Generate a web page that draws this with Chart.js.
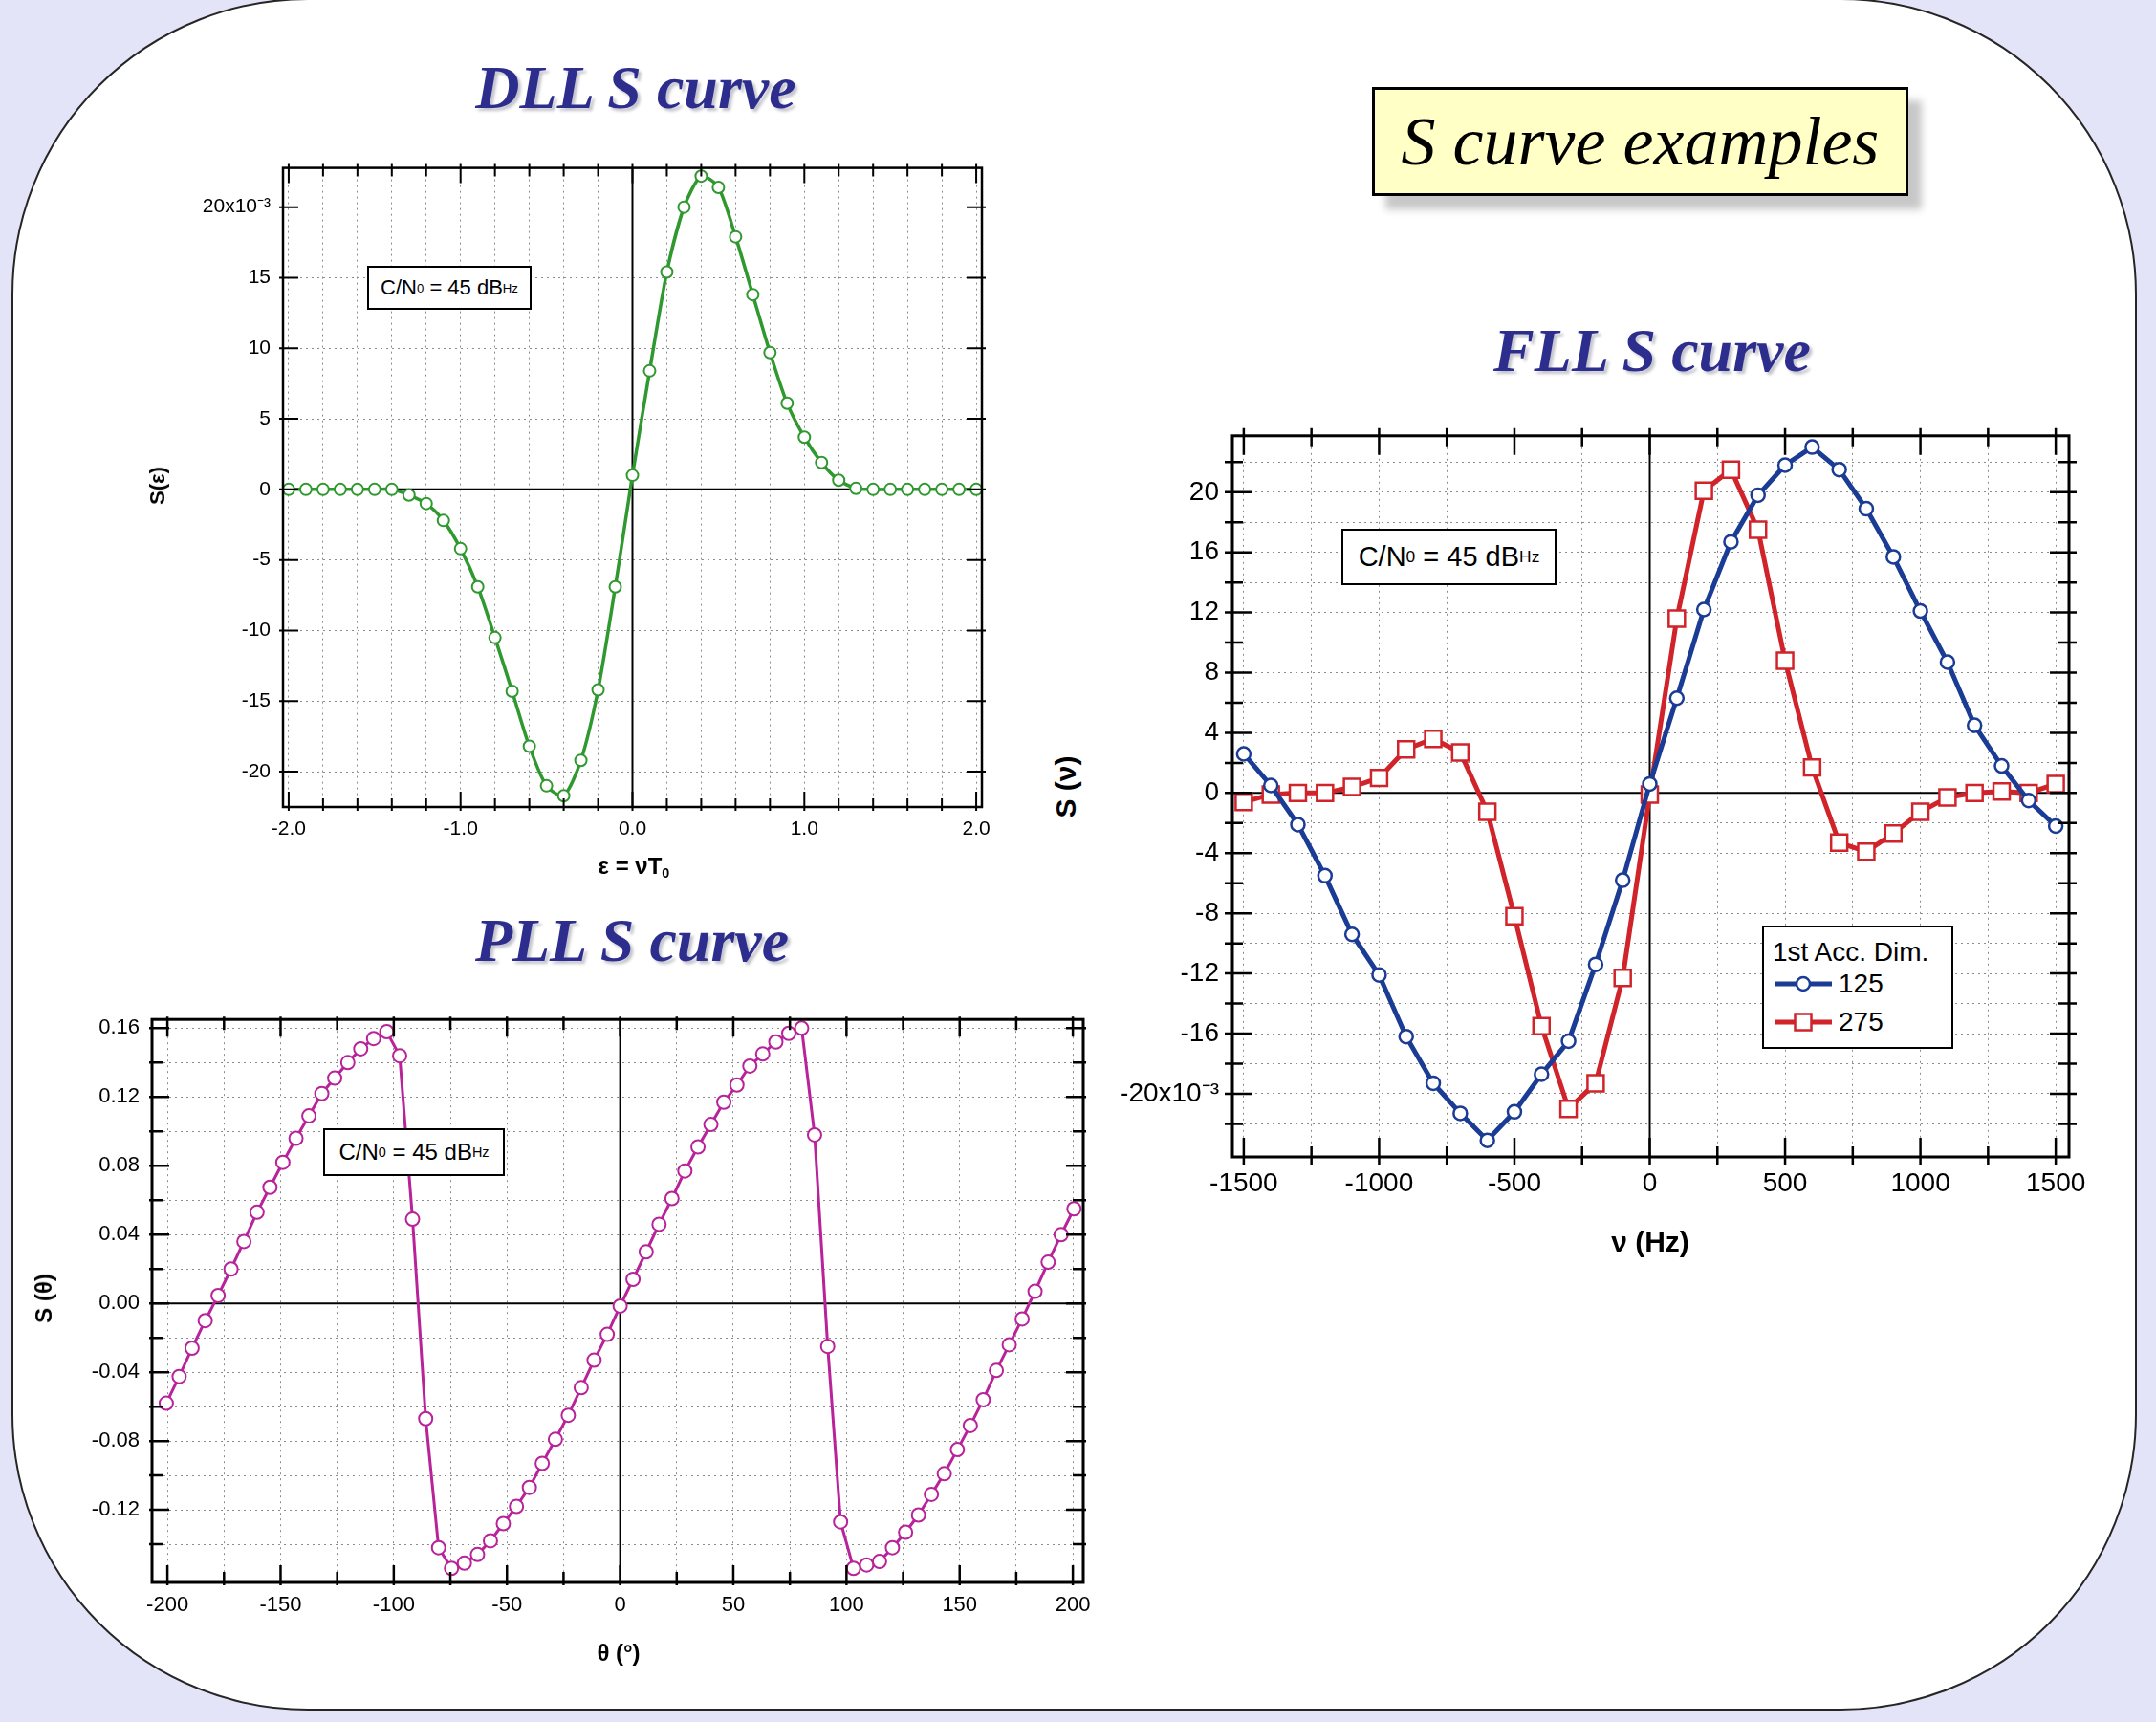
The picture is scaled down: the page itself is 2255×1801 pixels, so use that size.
<!DOCTYPE html>
<html>
<head>
<meta charset="utf-8">
<script src="https://cdn.jsdelivr.net/npm/chart.js@4.4.0/dist/chart.umd.min.js"></script>
<style>
  html, body { margin: 0; padding: 0; }
  body { width: 2255px; height: 1801px; position: relative; overflow: hidden; background: #e4e4f8; font-family: 'Liberation Sans', Arial, sans-serif; }
  #panel { position: absolute; left: 12px; top: -2px; width: 2219px; height: 1787px; background: #fff; border: 2px solid #262626; border-radius: 310px; }
  .title { position: absolute; transform: translate(-50%, -50%); font: italic bold 64px 'Liberation Serif', serif; color: #2d2d8e; white-space: nowrap; line-height: 1; text-shadow: 3px 3px 3px rgba(60, 60, 90, .3); }
  #banner { position: absolute; left: 1435px; top: 91px; width: 555px; height: 108px; border: 3px solid #000; background: #ffffc6; box-shadow: 14px 14px 8px rgba(0, 0, 0, .22); font: italic 72px 'Liberation Serif', serif; display: flex; align-items: center; justify-content: center; white-space: nowrap; }
  canvas { position: absolute; }
  .note { position: absolute; box-sizing: border-box; border: 2px solid #000; background: #fff; display: flex; align-items: center; justify-content: center; white-space: nowrap; font-family: 'Liberation Sans Narrow', 'Liberation Sans', Arial, sans-serif; }
  .note sub { font-size: 60%; vertical-align: -0.35em; }
  .ax { position: absolute; transform: translate(-50%, -50%); font-weight: bold; white-space: nowrap; line-height: 1; }
  .ax.rot { transform: translate(-50%, -50%) rotate(-90deg); }
  .ax sub { font-size: 60%; vertical-align: -0.3em; }
  #legend { position: absolute; left: 1843px; top: 968px; width: 200px; height: 129px; box-sizing: border-box; border: 2px solid #000; background: #fff; font-family: 'Liberation Sans Narrow', 'Liberation Sans', Arial, sans-serif; font-size: 28px; }
  #legend div { position: absolute; white-space: nowrap; line-height: 1; transform: translateY(-50%); }
  #legend svg { position: absolute; }
</style>
</head>
<body>
<div id="panel"></div>

<div class="title" style="left:665px;top:92px">DLL S curve</div>
<div class="title" style="left:661px;top:984px">PLL S curve</div>
<div class="title" style="left:1728px;top:367px">FLL S curve</div>
<div id="banner">S curve examples</div>

<canvas id="dllChart" width="960" height="790" style="left:100px;top:150px"></canvas>
<canvas id="pllChart" width="1140" height="700" style="left:20px;top:1040px"></canvas>
<canvas id="fllChart" width="1080" height="880" style="left:1140px;top:425px"></canvas>

<div class="note" style="left:384px;top:278px;width:172px;height:46px;font-size:22px">C/N<sub>0</sub>&nbsp;= 45 dB<sub>Hz</sub></div>
<div class="note" style="left:338px;top:1180px;width:190px;height:50px;font-size:24px">C/N<sub>0</sub>&nbsp;= 45 dB<sub>Hz</sub></div>
<div class="note" style="left:1403px;top:553px;width:225px;height:59px;font-size:29px">C/N<sub>0</sub>&nbsp;= 45 dB<sub>Hz</sub></div>

<div class="ax rot" style="left:165px;top:508px;font-size:22px">S(ε)</div>
<div class="ax" style="left:663px;top:907px;font-size:24px">ε = νT<sub>0</sub></div>
<div class="ax rot" style="left:46px;top:1358px;font-size:24px">S (θ)</div>
<div class="ax" style="left:647px;top:1729px;font-size:24px">θ (°)</div>
<div class="ax rot" style="left:1115px;top:823px;font-size:30px">S (ν)</div>
<div class="ax" style="left:1726px;top:1299px;font-size:30px">ν (Hz)</div>

<div id="legend">
  <div style="left:9px;top:26px">1st Acc. Dim.</div>
  <svg width="64" height="24" style="left:9px;top:47px">
    <line x1="2" y1="12" x2="62" y2="12" stroke="#1b3c95" stroke-width="5"/>
    <circle cx="32" cy="12" r="7" fill="#fff" stroke="#1b3c95" stroke-width="2.5"/>
  </svg>
  <div style="left:78px;top:59px">125</div>
  <svg width="64" height="26" style="left:9px;top:86px">
    <line x1="2" y1="13" x2="62" y2="13" stroke="#d0232a" stroke-width="5"/>
    <rect x="23.5" y="4.5" width="17" height="17" fill="#fff" stroke="#d0232a" stroke-width="2.5"/>
  </svg>
  <div style="left:78px;top:99px">275</div>
</div>

<script>
// DLL S curve (values in 10^-3)
const dllEps = [-2.0, -1.9, -1.8, -1.7, -1.6, -1.5, -1.4, -1.3, -1.2, -1.1, -1.0, -0.9, -0.8, -0.7,
  -0.6, -0.5, -0.4, -0.3, -0.2, -0.1, 0.0, 0.1, 0.2, 0.3, 0.4, 0.5, 0.6, 0.7, 0.8, 0.9, 1.0,
  1.1, 1.2, 1.3, 1.4, 1.5, 1.6, 1.7, 1.8, 1.9, 2.0];
const dllS = [0, 0, 0, 0, 0, 0, 0, -0.4, -1.0, -2.2, -4.2, -6.9, -10.5, -14.3,
  -18.2, -21.0, -21.7, -19.2, -14.2, -6.9, 1.0, 8.4, 15.4, 20.0, 22.2, 21.4, 17.9, 13.8, 9.7, 6.1, 3.7,
  1.9, 0.65, 0.07, 0, 0, 0, 0, 0, 0, 0];
const dllXLabels = [-2, -1, 0, 1, 2];
const dllYLabels = [-20, -15, -10, -5, 0, 5, 10, 15, 20];

// PLL S curve
const pllTheta = [-200.5, -194.8, -189.1, -183.3, -177.6, -171.9, -166.2, -160.4, -154.7, -149.0,
  -143.2, -137.5, -131.8, -126.1, -120.3, -114.6, -108.9, -103.1, -97.4, -91.7,
  -85.9, -80.2, -74.5, -68.8, -63.0, -57.3, -51.6, -45.8, -40.1, -34.4,
  -28.6, -22.9, -17.2, -11.5, -5.7, 0, 5.7, 11.5, 17.2, 22.9,
  28.6, 34.4, 40.1, 45.8, 51.6, 57.3, 63.0, 68.8, 74.5, 80.2,
  85.9, 91.7, 97.4, 103.1, 108.9, 114.6, 120.3, 126.1, 131.8, 137.5,
  143.2, 149.0, 154.7, 160.4, 166.2, 171.9, 177.6, 183.3, 189.1, 194.8, 200.5];
const pllS = [-0.058, -0.0425, -0.026, -0.010, 0.0046, 0.020, 0.036, 0.053, 0.0675, 0.082,
  0.096, 0.109, 0.122, 0.131, 0.140, 0.148, 0.154, 0.158, 0.144, 0.049,
  -0.067, -0.142, -0.154, -0.151, -0.146, -0.138, -0.128, -0.118, -0.107, -0.093,
  -0.079, -0.065, -0.049, -0.033, -0.018, -0.0015, 0.014, 0.030, 0.046, 0.061,
  0.077, 0.091, 0.104, 0.117, 0.127, 0.138, 0.145, 0.152, 0.157, 0.160,
  0.098, -0.025, -0.127, -0.154, -0.152, -0.150, -0.142, -0.133, -0.123, -0.111,
  -0.099, -0.085, -0.071, -0.056, -0.039, -0.024, -0.009, 0.007, 0.024, 0.040, 0.055];
const pllXLabels = [-200, -150, -100, -50, 0, 50, 100, 150, 200];
const pllYLabels = [-0.12, -0.08, -0.04, 0, 0.04, 0.08, 0.12, 0.16];

// FLL S curve (values in 10^-3)
const fllFreq = [-1500, -1400, -1300, -1200, -1100, -1000, -900, -800, -700, -600, -500, -400, -300, -200, -100,
  0, 100, 200, 300, 400, 500, 600, 700, 800, 900, 1000, 1100, 1200, 1300, 1400, 1500];
const fll125 = [2.6, 0.5, -2.1, -5.5, -9.4, -12.1, -16.2, -19.3, -21.3, -23.1, -21.2, -18.7, -16.5, -11.4, -5.8,
  0.6, 6.3, 12.2, 16.7, 19.8, 21.8, 23.0, 21.5, 18.9, 15.7, 12.1, 8.7, 4.5, 1.8, -0.5, -2.2];
const fll275 = [-0.6, -0.1, 0.0, 0.0, 0.4, 1.0, 2.9, 3.6, 2.7, -1.25, -8.2, -15.5, -21.0, -19.3, -12.3,
  -0.1, 11.6, 20.1, 21.5, 17.5, 8.8, 1.7, -3.3, -3.9, -2.7, -1.25, -0.3, 0.0, 0.1, 0.0, 0.6];
const fllXLabels = [-1500, -1000, -500, 0, 500, 1000, 1500];
const fllYLabels = [-20, -16, -12, -8, -4, 0, 4, 8, 12, 16, 20];

const tickFont = "'Liberation Sans Narrow', 'Liberation Sans', Arial, sans-serif";

function range(a, b, s) {
  const out = [];
  for (let v = a; v <= b + s / 1e6; v += s) out.push(Math.round(v * 1e6) / 1e6);
  return out;
}

function hasLabel(list, v) {
  return list.some(l => Math.abs(l - v) < 1e-6);
}

function axis(cfg) {
  return {
    type: 'linear',
    min: cfg.min,
    max: cfg.max,
    afterBuildTicks: s => { s.ticks = cfg.grid.map(v => ({ value: v })); },
    afterFit: s => { if (cfg.width) s.width = cfg.width; if (cfg.height) s.height = cfg.height; },
    ticks: {
      autoSkip: false,
      maxRotation: 0,
      padding: cfg.pad,
      color: '#000',
      font: { family: tickFont, size: cfg.size },
      callback: v => hasLabel(cfg.labels, v) ? cfg.fmt(v) : ''
    },
    grid: { color: '#8c8c8c', lineWidth: 1, drawTicks: false },
    border: { display: false, dash: [2, 4] }
  };
}

// frame, zero lines and inward ticks like the original plotting package
function framePlugin(xLabels, yLabels, st) {
  return {
    id: 'frame',
    beforeDatasetsDraw(chart) {
      const { ctx, chartArea: a, scales: { x, y } } = chart;
      const x0 = x.getPixelForValue(0), y0 = y.getPixelForValue(0);
      ctx.save();
      ctx.strokeStyle = '#000';
      ctx.lineWidth = st.zero;
      ctx.beginPath();
      ctx.moveTo(x0, a.top); ctx.lineTo(x0, a.bottom);
      ctx.moveTo(a.left, y0); ctx.lineTo(a.right, y0);
      ctx.stroke();
      ctx.restore();
    },
    afterDatasetsDraw(chart) {
      const { ctx, chartArea: a, scales: { x, y } } = chart;
      ctx.save();
      ctx.strokeStyle = '#000';
      ctx.lineWidth = st.tickWidth;
      ctx.beginPath();
      x.ticks.forEach(t => {
        const px = x.getPixelForValue(t.value);
        const len = hasLabel(xLabels, t.value) ? st.major : st.minor;
        ctx.moveTo(px, a.top - st.out); ctx.lineTo(px, a.top + len);
        ctx.moveTo(px, a.bottom + st.out); ctx.lineTo(px, a.bottom - len);
      });
      y.ticks.forEach(t => {
        const py = y.getPixelForValue(t.value);
        const len = hasLabel(yLabels, t.value) ? st.major : st.minor;
        ctx.moveTo(a.left - st.out, py); ctx.lineTo(a.left + len, py);
        ctx.moveTo(a.right + st.out, py); ctx.lineTo(a.right - len, py);
      });
      ctx.stroke();
      ctx.lineWidth = st.frame;
      ctx.strokeRect(a.left, a.top, a.right - a.left, a.bottom - a.top);
      ctx.restore();
    }
  };
}

function lineSet(xs, ys, color, opts) {
  return Object.assign({
    data: xs.map((v, i) => ({ x: v, y: ys[i] })),
    borderColor: color,
    pointBorderColor: color,
    pointBackgroundColor: '#fff',
    tension: 0
  }, opts);
}

const common = {
  responsive: false,
  animation: false,
  events: [],
  plugins: { legend: { display: false }, tooltip: { enabled: false } }
};

new Chart(document.getElementById('dllChart'), {
  type: 'line',
  data: {
    datasets: [lineSet(dllEps, dllS, '#2f982f', { borderWidth: 3.5, pointRadius: 6, pointBorderWidth: 2, tension: 0.25 })]
  },
  options: Object.assign({}, common, {
    layout: { padding: { top: 17, right: 33, left: 0, bottom: 0 } },
    scales: {
      x: axis({ min: -2.033, max: 2.033, grid: range(-2, 2, 0.2), labels: dllXLabels, fmt: v => v.toFixed(1), size: 21, pad: 11, height: 96 }),
      y: axis({ min: -22.5, max: 22.78, grid: range(-20, 20, 5), labels: dllYLabels, fmt: v => v === 20 ? '20x10⁻³' : String(v), size: 21, pad: 13, width: 196 })
    }
  }),
  plugins: [framePlugin(dllXLabels, dllYLabels, { zero: 2, tickWidth: 2, frame: 2.5, major: 16, minor: 9, out: 4 })]
});

new Chart(document.getElementById('pllChart'), {
  type: 'line',
  data: {
    datasets: [lineSet(pllTheta, pllS, '#b8239a', { borderWidth: 3, pointRadius: 7, pointBorderWidth: 2 })]
  },
  options: Object.assign({}, common, {
    layout: { padding: { top: 17, right: 27, left: 0, bottom: 0 } },
    scales: {
      x: axis({ min: -206.8, max: 204.6, grid: range(-200, 200, 25), labels: pllXLabels, fmt: v => String(v), size: 22, pad: 11, height: 85 }),
      y: axis({ min: -0.1622, max: 0.1651, grid: range(-0.14, 0.16, 0.02), labels: pllYLabels, fmt: v => v.toFixed(2), size: 22, pad: 13, width: 139 })
    }
  }),
  plugins: [framePlugin(pllXLabels, pllYLabels, { zero: 2, tickWidth: 2.5, frame: 3, major: 18, minor: 11, out: 3 })]
});

new Chart(document.getElementById('fllChart'), {
  type: 'line',
  data: {
    datasets: [
      lineSet(fllFreq, fll125, '#1b3c95', { borderWidth: 5, pointRadius: 7, pointBorderWidth: 2.5 }),
      lineSet(fllFreq, fll275, '#d0232a', { borderWidth: 5, pointRadius: 12, pointBorderWidth: 2.5, pointStyle: 'rect' })
    ]
  },
  options: Object.assign({}, common, {
    layout: { padding: { top: 18, right: 56, left: 0, bottom: 0 } },
    scales: {
      x: axis({ min: -1542, max: 1549, grid: range(-1500, 1500, 250), labels: fllXLabels, fmt: v => String(v), size: 28, pad: 11, height: 95 }),
      y: axis({ min: -24.2, max: 23.75, grid: range(-22, 22, 2), labels: fllYLabels, fmt: v => v === -20 ? '-20x10⁻³' : String(v), size: 28, pad: 14, width: 149 })
    }
  }),
  plugins: [framePlugin(fllXLabels, fllYLabels, { zero: 2, tickWidth: 2.5, frame: 3, major: 20, minor: 11, out: 8 })]
});
</script>
</body>
</html>
